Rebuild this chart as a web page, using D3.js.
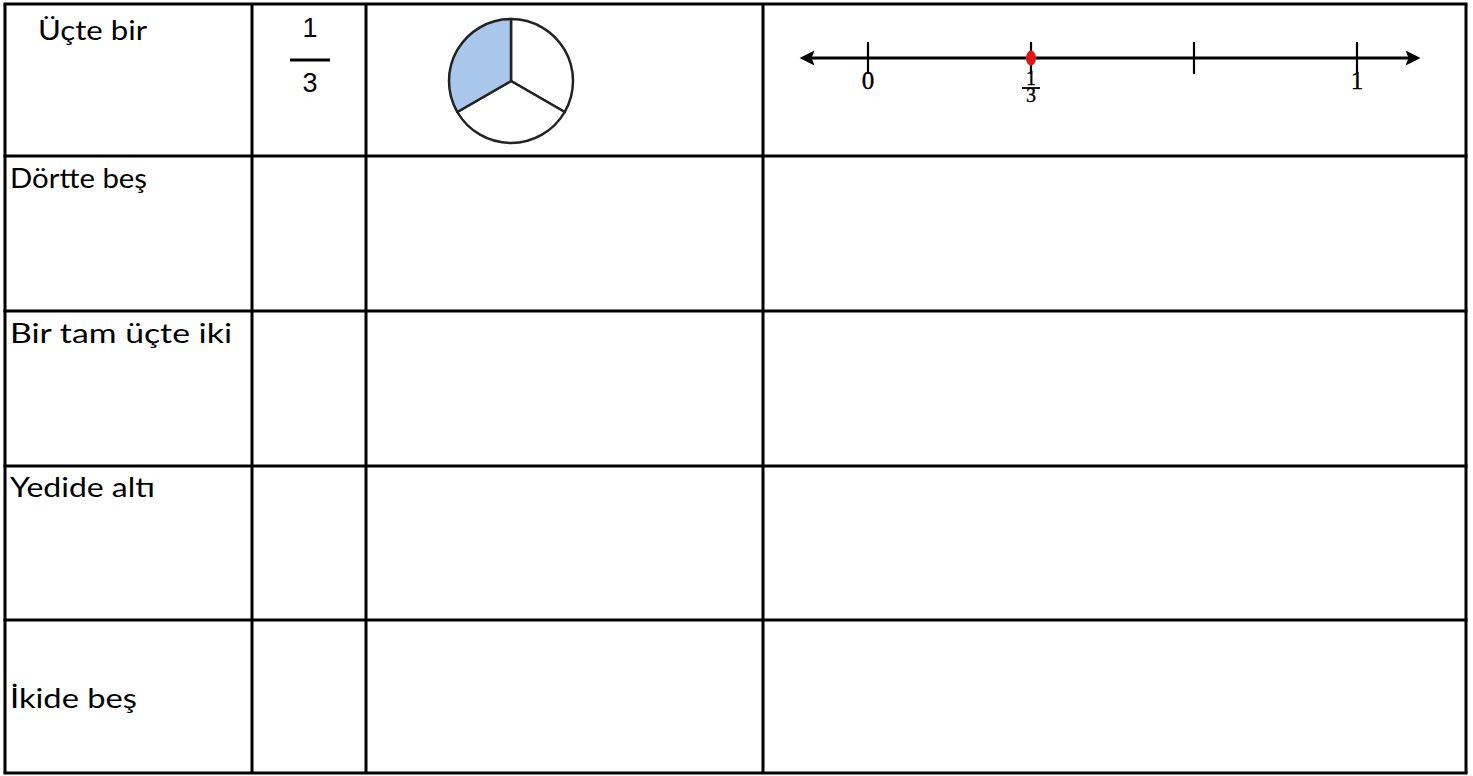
<!DOCTYPE html>
<html>
<head>
<meta charset="utf-8">
<script src="https://cdn.jsdelivr.net/npm/d3@7/dist/d3.min.js"></script>
<style>
  html, body { margin: 0; padding: 0; background: #fff; }
  svg { display: block; }
</style>
</head>
<body>
<svg id="chart" width="1473" height="776"></svg>
<script>
// ---------- data ----------
const rowLabels = ["Üçte bir", "Dörtte beş", "Bir tam üçte iki", "Yedide altı", "İkide beş"];
const fractionNumerators = [1];
const fractionDenominators = [3];
const pieSlices = [1, 1, 1];          // equal parts of the circle
const pieShaded = [false, false, true];
const lineTicks = [0, 1/3, 2/3, 1];
const lineTickLabels = ["0", "1/3", "", "1"];
const linePoint = [1/3];
const lineExtent = [-0.14, 1.13];

// ---------- layout ----------
const colEdges = [5, 252, 366, 763, 1466];
const rowEdges = [4, 156, 311, 466, 620, 773];
const labelBaselines = [40, 188, 343, 497, 708];
const labelX = [38, 10, 10, 10, 10];
const labelWidths = [109, 137, 222, 145, 127];

const svg = d3.select("#chart");
const gridStroke = 3;

// grid
const grid = svg.append("g");
rowEdges.forEach(y => grid.append("line")
  .attr("x1", colEdges[0] - gridStroke/2).attr("x2", colEdges[colEdges.length-1] + gridStroke/2)
  .attr("y1", y).attr("y2", y).attr("stroke", "#000").attr("stroke-width", gridStroke));
colEdges.forEach(x => grid.append("line")
  .attr("x1", x).attr("x2", x)
  .attr("y1", rowEdges[0]).attr("y2", rowEdges[rowEdges.length-1])
  .attr("stroke", "#000").attr("stroke-width", gridStroke));

// row labels
svg.append("g").selectAll("text").data(rowLabels).join("text")
  .attr("x", (d, i) => labelX[i])
  .attr("y", (d, i) => labelBaselines[i])
  .attr("font-family", "Lato, 'Open Sans', sans-serif")
  .attr("font-size", 26)
  .attr("textLength", (d, i) => labelWidths[i])
  .attr("lengthAdjust", "spacingAndGlyphs")
  .attr("fill", "#000")
  .text(d => d);

// fraction 1/3 in the first row
const fx = (colEdges[1] + colEdges[2]) / 2 + 1;
const frac = svg.append("g");
frac.append("text").attr("x", fx).attr("y", 37).attr("text-anchor", "middle")
  .attr("font-family", "'Liberation Sans', Arial, sans-serif").attr("font-size", 27)
  .text(fractionNumerators[0]);
frac.append("line").attr("x1", fx - 20).attr("x2", fx + 20).attr("y1", 60).attr("y2", 60)
  .attr("stroke", "#000").attr("stroke-width", 3);
frac.append("text").attr("x", fx).attr("y", 92).attr("text-anchor", "middle")
  .attr("font-family", "'Liberation Sans', Arial, sans-serif").attr("font-size", 27)
  .text(fractionDenominators[0]);

// pie
const pieGen = d3.pie().sort(null).startAngle(0).endAngle(2 * Math.PI);
const arcs = pieGen(pieSlices);
const arcGen = d3.arc().innerRadius(0).outerRadius(62);
svg.append("g").attr("transform", "translate(511,81)")
  .selectAll("path").data(arcs).join("path")
  .attr("d", arcGen)
  .attr("fill", (d, i) => pieShaded[i] ? "#a9c7ea" : "#fff")
  .attr("stroke", "#222").attr("stroke-width", 2.5).attr("stroke-linejoin", "round");

// number line
const x = d3.scaleLinear().domain([0, 1]).range([868, 1357]);
const ly = 58;
const nl = svg.append("g");
nl.append("line").attr("x1", x(lineExtent[0]) + 6).attr("x2", x(lineExtent[1]) - 6)
  .attr("y1", ly).attr("y2", ly).attr("stroke", "#000").attr("stroke-width", 3);
// arrowheads
const ah = 15, aw = 7.5;
nl.append("path").attr("d",
  `M${x(lineExtent[0])},${ly} L${x(lineExtent[0]) + ah},${ly - aw} L${x(lineExtent[0]) + ah - 3},${ly} L${x(lineExtent[0]) + ah},${ly + aw} Z`)
  .attr("fill", "#000");
nl.append("path").attr("d",
  `M${x(lineExtent[1])},${ly} L${x(lineExtent[1]) - ah},${ly - aw} L${x(lineExtent[1]) - ah + 3},${ly} L${x(lineExtent[1]) - ah},${ly + aw} Z`)
  .attr("fill", "#000");
nl.selectAll("line.tick").data(lineTicks).join("line").attr("class", "tick")
  .attr("x1", d => x(d)).attr("x2", d => x(d))
  .attr("y1", ly - 16).attr("y2", ly + 16)
  .attr("stroke", "#000").attr("stroke-width", 2.2);
// tick labels
const serif = "'Liberation Serif', 'Times New Roman', serif";
lineTicks.forEach((t, i) => {
  const lab = lineTickLabels[i];
  if (!lab) return;
  if (lab.includes("/")) {
    const [n, d] = lab.split("/");
    const tt = nl.append("text").attr("x", x(t)).attr("y", 85).attr("text-anchor", "middle")
      .attr("font-family", serif).attr("font-size", 20)
      .attr("stroke", "#000").attr("stroke-width", 0.4);
    tt.append("tspan").attr("x", x(t)).text(n);
    tt.append("tspan").attr("x", x(t)).attr("dy", 17).text(d);
    nl.append("line").attr("x1", x(t) - 9).attr("x2", x(t) + 9).attr("y1", 88).attr("y2", 88)
      .attr("stroke", "#000").attr("stroke-width", 1.8);
  } else {
    nl.append("text").attr("x", x(t)).attr("y", 89).attr("text-anchor", "middle")
      .attr("font-family", serif).attr("font-size", 25)
      .attr("stroke", "#000").attr("stroke-width", 0.4).text(lab);
  }
});
// point
nl.selectAll("ellipse").data(linePoint).join("ellipse")
  .attr("cx", d => x(d)).attr("cy", ly).attr("rx", 5).attr("ry", 7.5)
  .attr("fill", "#e0161b");
</script>
</body>
</html>
